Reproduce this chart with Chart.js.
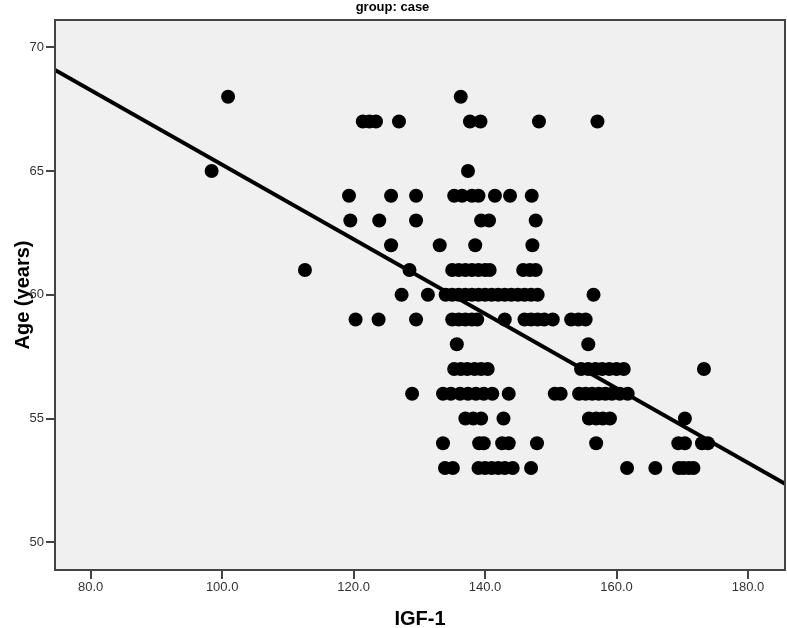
<!DOCTYPE html>
<html><head><meta charset="utf-8">
<script src="https://cdn.jsdelivr.net/npm/chart.js@4"></script>
<style>html,body{margin:0;padding:0;background:#fff}canvas{display:block}</style>
</head><body>
<canvas id="c" width="787" height="628"></canvas>
<script>
const titleText = 'group: case';
const xAxisTitle = 'IGF-1';
const yAxisTitle = 'Age (years)';
const xTicks = [80, 100, 120, 140, 160, 180];
const yTicks = [50, 55, 60, 65, 70];
const xRange = [74.57, 185.63];
const yRange = [48.88, 71.10];
const fitIntercept = 80.30;
const fitSlope = -0.1505;

const ages = [68, 67, 65, 64, 63, 62, 61, 60, 59, 58, 57, 56, 55, 54, 53];
const igf68 = [100.9, 136.3];
const igf67 = [121.4, 122.4, 123.4, 126.9, 137.7, 139.3, 148.2, 157.1];
const igf65 = [98.4, 137.4];
const igf64 = [119.3, 125.7, 129.5, 135.3, 136.5, 138.0, 139.0, 141.5, 143.8, 147.1];
const igf63 = [119.5, 123.9, 129.5, 139.4, 140.6, 147.7];
const igf62 = [125.7, 133.1, 138.5, 147.2];
const igf61 = [112.6, 128.5, 135.0, 136.0, 137.0, 138.0, 139.0, 140.0, 140.7, 145.8, 146.8, 147.7];
const igf60 = [127.3, 131.3, 134, 135, 136, 137, 138, 139, 140, 141, 142, 143, 144, 145, 146, 147, 148, 156.5];
const igf59 = [120.3, 123.8, 129.5, 135.0, 136.0, 137.0, 138.0, 138.8, 143.0, 146.0, 147.0, 148.0, 149.0, 150.3, 153.1, 154.2, 155.3];
const igf58 = [135.7, 155.7];
const igf57 = [135.3, 136.3, 137.3, 138.4, 139.4, 140.4, 154.6, 155.7, 156.8, 157.8, 158.9, 160.0, 161.1, 173.3];
const igf56 = [128.9, 133.6, 134.8, 136.2, 137.4, 138.6, 139.8, 141.1, 143.6, 150.6, 151.5, 154.3, 155.3, 156.3, 157.3, 158.3, 159.3, 160.5, 161.7];
const igf55 = [137.0, 138.2, 139.4, 142.8, 155.8, 156.9, 157.9, 159.0, 170.4];
const igf54 = [133.6, 139.1, 139.8, 142.6, 143.6, 147.9, 156.9, 169.4, 170.4, 173.0, 173.9];
const igf53 = [133.9, 135.1, 139.0, 140.0, 141.0, 142.0, 143.0, 144.2, 147.0, 161.6, 165.9, 169.5, 170.2, 171.0, 171.7];
const igfByAge = [igf68, igf67, igf65, igf64, igf63, igf62, igf61, igf60, igf59, igf58, igf57, igf56, igf55, igf54, igf53];

const points = [];
ages.forEach((a, i) => igfByAge[i].forEach(v => points.push({x: v, y: a})));
const fitPoints = xRange.map(x => ({x: x, y: fitIntercept + fitSlope * x}));

const plotFrame = {
  id: 'plotFrame',
  beforeDatasetsDraw(chart) {
    const {ctx, chartArea: a} = chart;
    ctx.save();
    ctx.fillStyle = '#f0f0f0';
    ctx.fillRect(a.left, a.top, a.right - a.left, a.bottom - a.top);
    ctx.restore();
  },
  afterDraw(chart) {
    const {ctx, chartArea: a} = chart;
    ctx.save();
    ctx.strokeStyle = '#444';
    ctx.lineWidth = 2;
    ctx.strokeRect(a.left, a.top, a.right - a.left, a.bottom - a.top);
    ctx.restore();
  }
};

const font = "'Liberation Sans', Arial, sans-serif";
new Chart(document.getElementById('c'), {
  type: 'scatter',
  data: {
    datasets: [
      {type: 'line', data: fitPoints, borderColor: '#000', borderWidth: 4, pointRadius: 0, fill: false, order: 0},
      {data: points, backgroundColor: '#000', borderWidth: 0, pointRadius: 7, pointHoverRadius: 7, order: 1}
    ]
  },
  options: {
    responsive: false,
    animation: false,
    events: [],
    layout: {autoPadding: false, padding: {left: 0, right: 2, top: 0, bottom: 0}},
    plugins: {
      legend: {display: false},
      tooltip: {enabled: false},
      title: {display: true, text: titleText, color: '#000',
        font: {family: font, size: 13, weight: 'bold'}, padding: {top: 0, bottom: 4.4}}
    },
    scales: {
      x: {
        type: 'linear', min: xRange[0], max: xRange[1],
        afterBuildTicks: s => { s.ticks = xTicks.map(v => ({value: v})); },
        afterFit: s => { s.height = 58; s.paddingLeft = 0; s.paddingRight = 0; },
        border: {display: false},
        grid: {drawOnChartArea: false, drawTicks: true, tickLength: 9, color: '#444', lineWidth: 2},
        ticks: {color: '#333', padding: 1, font: {family: font, size: 13}, callback: v => Number(v).toFixed(1), maxRotation: 0},
        title: {display: true, text: xAxisTitle, color: '#000', font: {family: font, size: 20, weight: 'bold', lineHeight: 0.9}, padding: {top: 0, bottom: 0}}
      },
      y: {
        type: 'linear', min: yRange[0], max: yRange[1],
        afterBuildTicks: s => { s.ticks = yTicks.map(v => ({value: v})); },
        afterFit: s => { s.width = 55; s.paddingTop = 0; s.paddingBottom = 0; },
        border: {display: false},
        grid: {drawOnChartArea: false, drawTicks: true, tickLength: 9, color: '#444', lineWidth: 2},
        ticks: {color: '#333', padding: 2, font: {family: font, size: 13}, callback: v => String(v)},
        title: {display: true, text: yAxisTitle, color: '#000', font: {family: font, size: 20, weight: 'bold'}, padding: {top: 11, bottom: 0}}
      }
    }
  },
  plugins: [plotFrame]
});
</script>
</body></html>
